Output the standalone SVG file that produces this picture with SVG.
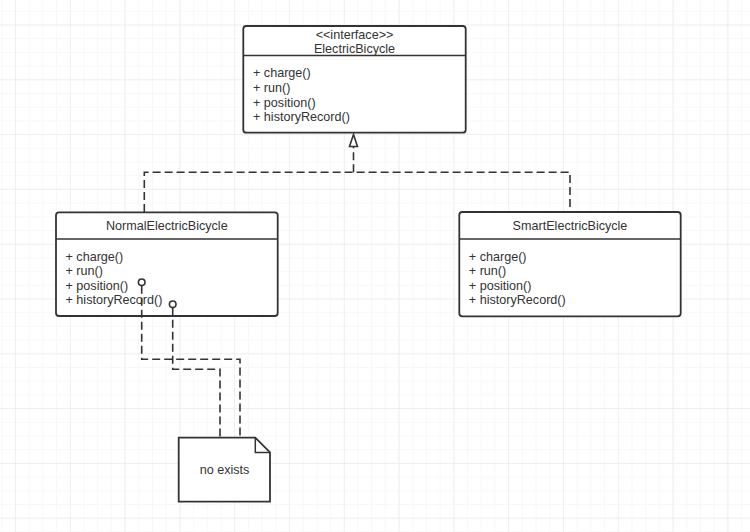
<svg xmlns="http://www.w3.org/2000/svg" width="750" height="532" viewBox="0 0 750 532">
  <defs>
    <pattern id="minor" x="15" y="24.5" width="13.7" height="13.7" patternUnits="userSpaceOnUse">
      <path d="M0 0 V13.7 M0 0 H13.7" fill="none" stroke="#f2f2f2" stroke-width="1"/>
    </pattern>
    <pattern id="major" x="15" y="24.5" width="54.8" height="54.8" patternUnits="userSpaceOnUse">
      <path d="M0 0 V54.8 M0 0 H54.8" fill="none" stroke="#e6e6e6" stroke-width="1"/>
    </pattern>
  </defs>
  <style>
    .box { fill: #fff; stroke: #333; stroke-width: 1.8; }
    .div { stroke: #333; stroke-width: 1.5; }
    .t { font-family: "Liberation Sans", Arial, sans-serif; font-size: 12.6px; fill: #333; }
    .c { text-anchor: middle; }
    .dash { fill: none; stroke: #333; stroke-width: 1.6; stroke-dasharray: 8 4; }
    .dot { fill: #fff; stroke: #333; stroke-width: 1.6; }
    .head { fill: #fff; stroke: #333; stroke-width: 1.6; stroke-linejoin: miter; }
  </style>
  <rect width="750" height="532" fill="#fff"/>
  <rect width="750" height="532" fill="url(#minor)"/>
  <rect width="750" height="532" fill="url(#major)"/>

  <g id="ElectricBicycle">
    <rect class="box" x="243.3" y="26" width="222.4" height="106.7" rx="3"/>
    <line class="div" x1="243.3" y1="55.5" x2="465.7" y2="55.5"/>
    <text class="t c" x="354.5" y="38.5">&lt;&lt;interface&gt;&gt;</text>
    <text class="t c" x="354.5" y="52.5">ElectricBicycle</text>
    <text class="t" x="253" y="77">+ charge()</text>
    <text class="t" x="253" y="91.8">+ run()</text>
    <text class="t" x="253" y="106.6">+ position()</text>
    <text class="t" x="253" y="121.4">+ historyRecord()</text>
  </g>

  <g id="NormalElectricBicycle">
    <rect class="box" x="56" y="212.3" width="221.7" height="103.7" rx="3"/>
    <line class="div" x1="56" y1="239" x2="277.7" y2="239"/>
    <text class="t c" x="166.8" y="229.8">NormalElectricBicycle</text>
    <text class="t" x="65.5" y="260.5">+ charge()</text>
    <text class="t" x="65.5" y="275">+ run()</text>
    <text class="t" x="65.5" y="289.7">+ position()</text>
    <text class="t" x="65.5" y="304.4">+ historyRecord()</text>
  </g>

  <g id="SmartElectricBicycle">
    <rect class="box" x="459.3" y="212" width="221.4" height="104.3" rx="3"/>
    <line class="div" x1="459.3" y1="239" x2="680.7" y2="239"/>
    <text class="t c" x="570" y="229.8">SmartElectricBicycle</text>
    <text class="t" x="468.8" y="260.5">+ charge()</text>
    <text class="t" x="468.8" y="275">+ run()</text>
    <text class="t" x="468.8" y="289.7">+ position()</text>
    <text class="t" x="468.8" y="304.4">+ historyRecord()</text>
  </g>

  <g id="note">
    <path class="box" d="M178.7 437.7 H255.3 L270 452.4 V501.7 H178.7 Z"/>
    <path d="M255.3 437.7 V452.4 H270" fill="none" stroke="#333" stroke-width="1.5"/>
    <text class="t c" x="224.5" y="473.8">no exists</text>
  </g>

  <g id="connectors">
    <path class="dash" d="M144.3 212 V172.3 H570 V212"/>
    <path class="dash" d="M353.5 172.3 V146.5"/>
    <polygon class="head" points="353.5,134.5 357.5,146.5 349.5,146.5"/>
    <path class="dash" d="M141.7 285.8 V359.3 H240 V437.7"/>
    <path class="dash" d="M172.7 307.8 V369.3 H220 V437.7"/>
    <circle class="dot" cx="141.7" cy="282.3" r="3.3"/>
    <circle class="dot" cx="172.7" cy="304.3" r="3.3"/>
  </g>
</svg>
